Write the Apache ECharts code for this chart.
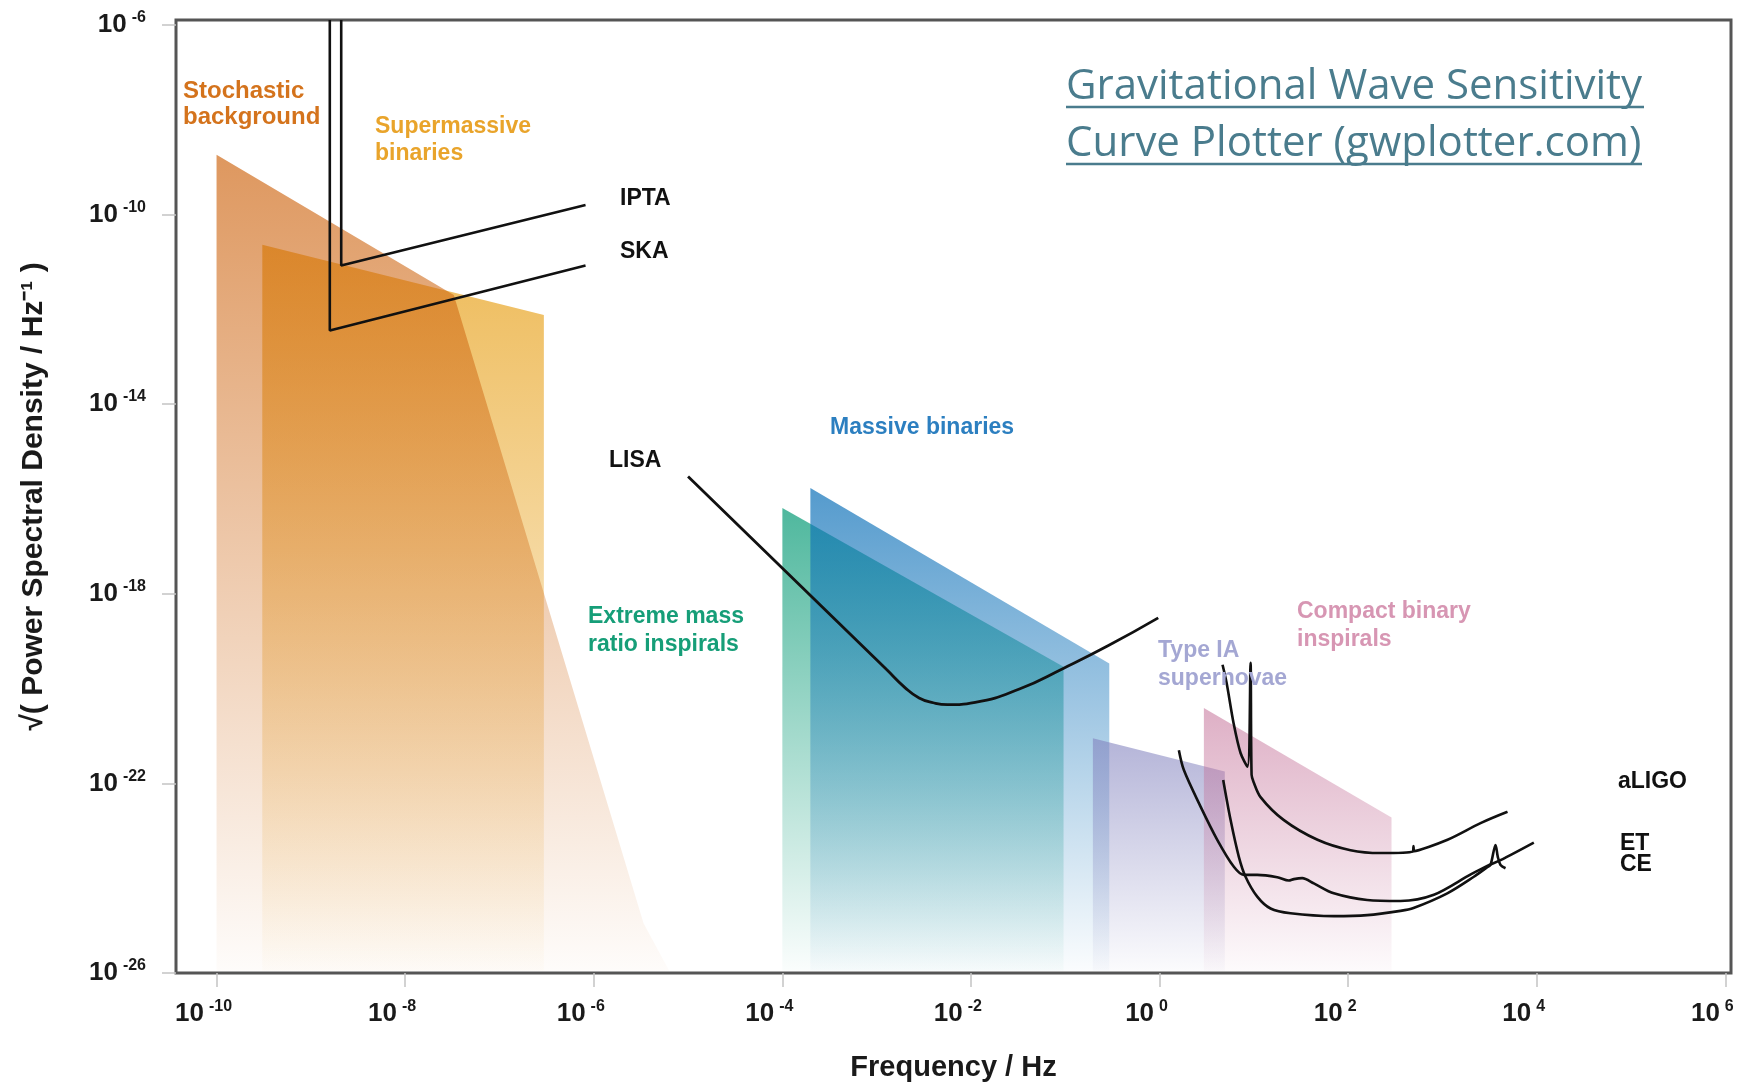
<!DOCTYPE html>
<html><head><meta charset="utf-8">
<script src="https://cdn.jsdelivr.net/npm/echarts@6/dist/echarts.min.js"></script>
<style>html,body{margin:0;padding:0;background:#fff}#c{width:1737px;height:1083px}</style>
</head><body><div id="c"></div>
<script>
// axis ticks: exponents of ten
const xTickExponents = [-10, -8, -6, -4, -2, 0, 2, 4, 6];
const yTickExponents = [-26, -22, -18, -14, -10, -6];

// source regions: [log10 frequency, log10 strain]
const stochasticBackground = [[-10.0, -25.95], [-10.0, -8.74], [-7.484, -11.70], [-5.472, -24.95], [-5.20, -25.95]];
const supermassiveBinaries = [[-9.515, -25.95], [-9.515, -10.64], [-6.529, -12.12], [-6.529, -25.95]];
const extremeMassRatio = [[-4.0, -25.95], [-4.0, -16.19], [-1.018, -19.54], [-1.018, -25.95]];
const massiveBinaries = [[-3.703, -25.95], [-3.703, -15.77], [-0.533, -19.47], [-0.533, -25.95]];
const typeIaSupernovae = [[-0.707, -25.95], [-0.707, -21.05], [0.692, -21.75], [0.692, -25.95]];
const compactBinaries = [[0.470, -25.95], [0.470, -20.41], [2.460, -22.72], [2.460, -25.95]];

// detector sensitivity curves: [log10 frequency, log10 strain]
const ipta = [[-8.678, -5.9], [-8.678, -11.08], [-6.087, -9.80]];
const ska = [[-8.799, -5.9], [-8.799, -12.45], [-6.087, -11.08]];
const lisa = [[-5.0, -15.53], [-2.90, -19.59], [-2.70, -19.98], [-2.55, -20.20], [-2.40, -20.30], [-2.249, -20.34],
  [-1.955, -20.29], [-1.486, -20.01], [-1.016, -19.57], [-0.547, -19.10], [-0.014, -18.51]];
const aligo = [[0.668, -19.50], [0.711, -19.88], [0.785, -20.73], [0.859, -21.36], [0.933, -21.65], [0.965, -19.46],
  [0.976, -21.82], [0.997, -21.97], [1.071, -22.29], [1.315, -22.77], [1.675, -23.19], [2.025, -23.41], [2.343, -23.47],
  [2.686, -23.44], [2.693, -23.32], [2.699, -23.43], [3.054, -23.19], [3.404, -22.84], [3.690, -22.60]];
const et = [[0.205, -21.30], [0.258, -21.72], [0.435, -22.49], [0.612, -23.19], [0.788, -23.76], [0.894, -23.93],
  [1.036, -23.93], [1.248, -23.98], [1.371, -24.05], [1.424, -24.02], [1.513, -24.00], [1.636, -24.11], [1.848, -24.32],
  [2.202, -24.46], [2.555, -24.48], [2.909, -24.35], [3.30, -23.92], [3.475, -23.74], [3.616, -23.62], [3.969, -23.25]];
const ce = [[0.675, -21.93], [0.753, -22.77], [0.841, -23.55], [0.912, -23.97], [1.036, -24.39], [1.177, -24.64],
  [1.389, -24.74], [1.848, -24.80], [2.202, -24.78], [2.555, -24.69], [2.693, -24.63], [3.051, -24.32], [3.333, -23.97],
  [3.475, -23.77], [3.510, -23.72], [3.563, -23.30], [3.587, -23.55], [3.616, -23.72], [3.669, -23.79]];

const chart = echarts.init(document.getElementById('c'), null, {renderer: 'canvas'});

function fade(r, g, b, a0, a1) {
  return new echarts.graphic.LinearGradient(0, 0, 0, 1, [
    {offset: 0, color: `rgba(${r},${g},${b},${a0})`},
    {offset: 1, color: `rgba(${r},${g},${b},${a1})`}
  ]);
}
function region(name, pts, fill, z) {
  return {
    type: 'custom', name, coordinateSystem: 'cartesian2d', clip: true, silent: true, z,
    data: [pts[0]],
    renderItem: (params, api) => ({
      type: 'polygon',
      shape: {points: pts.map(p => api.coord(p))},
      style: {fill}
    })
  };
}
function curve(name, data, width, smooth) {
  return {type: 'line', name, data, symbol: 'none', silent: true, clip: true, z: 5, smooth: smooth || false,
    lineStyle: {color: '#111', width: width}};
}
const labFont = '"Liberation Sans", Arial, sans-serif';
const tickFont = '"Liberation Sans Narrow", "Liberation Sans", Arial, sans-serif';
function label(text, x, y, color, lh) {
  return {type: 'text', x, y, z: 100, silent: true,
    style: {text, fill: color, font: `bold 23px ${labFont}`, lineHeight: lh || 27, align: 'left', verticalAlign: 'middle'}};
}
const titleColor = '#4a7c8d';
const tickRich = {
  b: {fontSize: 26, fontFamily: tickFont, fontWeight: 'bold', color: '#1a1a1a', lineHeight: 30},
  s: {fontSize: 16, fontFamily: tickFont, fontWeight: 'bold', color: '#1a1a1a', lineHeight: 14, verticalAlign: 'top', padding: [0, 0, 0, 5]}
};

chart.setOption({
  backgroundColor: '#fff',
  animation: false,
  grid: {left: 176, right: 6, top: 20, bottom: 110, show: true, borderColor: '#555', borderWidth: 3,
    backgroundColor: 'transparent', outerBoundsMode: 'none', containLabel: false},
  xAxis: {
    type: 'value', min: -10.43, max: 6.06,
    name: 'Frequency / Hz', nameLocation: 'middle', nameGap: 80,
    nameTextStyle: {fontSize: 29, fontWeight: 'bold', fontFamily: labFont, color: '#1a1a1a'},
    axisLine: {show: false, onZero: false}, splitLine: {show: false},
    axisTick: {show: true, customValues: xTickExponents, length: 14, lineStyle: {color: '#c4c4c4', width: 1.5}},
    axisLabel: {customValues: xTickExponents, margin: 26, padding: [0, 26, 0, 0],
      formatter: v => `{b|10}{s|${v}}`, rich: tickRich}
  },
  yAxis: {
    type: 'value', min: -26, max: -5.9,
    name: '\u221A( Power Spectral Density / Hz\u207B\u00B9 )', nameLocation: 'middle', nameGap: 127,
    nameTextStyle: {fontSize: 30, fontWeight: 'bold', fontFamily: labFont, color: '#1a1a1a'},
    axisLine: {show: false, onZero: false}, splitLine: {show: false},
    axisTick: {show: true, customValues: yTickExponents, length: 14, lineStyle: {color: '#c4c4c4', width: 1.5}},
    axisLabel: {customValues: yTickExponents, margin: 30,
      formatter: v => `{b|10}{s|${v}}`, rich: tickRich}
  },
  series: [
    region('Supermassive binaries', supermassiveBinaries, fade(235, 175, 60, 0.85, 0.02), 1),
    region('Stochastic background', stochasticBackground, fade(205, 98, 12, 0.66, 0.02), 2),
    region('Extreme mass ratio inspirals', extremeMassRatio, fade(20, 160, 125, 0.75, 0.02), 1),
    region('Massive binaries', massiveBinaries, fade(12, 112, 184, 0.7, 0.02), 2),
    region('Type IA supernovae', typeIaSupernovae, fade(130, 130, 190, 0.6, 0.03), 3),
    region('Compact binary inspirals', compactBinaries, fade(195, 110, 150, 0.55, 0.03), 3),
    curve('IPTA', ipta, 2.6),
    curve('SKA', ska, 2.6),
    curve('LISA', lisa, 2.8, 0.5),
    curve('aLIGO', aligo, 2.6, 0.3),
    curve('ET', et, 2.6, 0.3),
    curve('CE', ce, 2.6, 0.3)
  ],
  graphic: [
    {type: 'text', x: 183, y: 104, z: 100, silent: true,
      style: {text: 'Stochastic\nbackground', fill: '#d4731c', font: `bold 24px ${labFont}`, lineHeight: 26, align: 'left', verticalAlign: 'middle'}},
    label('Supermassive\nbinaries', 375, 140, '#e9a42b', 27),
    label('IPTA', 620, 199, '#111'),
    label('SKA', 620, 252, '#111'),
    label('LISA', 609, 461, '#111'),
    label('Massive binaries', 830, 428, '#2c7fc0'),
    label('Extreme mass\nratio inspirals', 588, 631, '#169e78', 28),
    label('Type IA\nsupernovae', 1158, 665, '#a4a7d3', 28),
    label('Compact binary\ninspirals', 1297, 626, '#d796b3', 28),
    label('aLIGO', 1618, 782, '#111'),
    label('ET\nCE', 1620, 854, '#111', 21),
    {type: 'text', x: 1066, y: 87, z: 100, silent: true,
      style: {text: 'Gravitational Wave Sensitivity', fill: titleColor, font: '42px "Open Sans", sans-serif', align: 'left', verticalAlign: 'middle'}},
    {type: 'text', x: 1066, y: 144, z: 100, silent: true,
      style: {text: 'Curve Plotter (gwplotter.com)', fill: titleColor, font: '42px "Open Sans", sans-serif', align: 'left', verticalAlign: 'middle'}},
    {type: 'line', z: 100, silent: true, shape: {x1: 1066, y1: 107, x2: 1644, y2: 107}, style: {stroke: titleColor, lineWidth: 2.5}},
    {type: 'line', z: 100, silent: true, shape: {x1: 1066, y1: 164, x2: 1642, y2: 164}, style: {stroke: titleColor, lineWidth: 2.5}}
  ]
});
</script>
</body></html>
